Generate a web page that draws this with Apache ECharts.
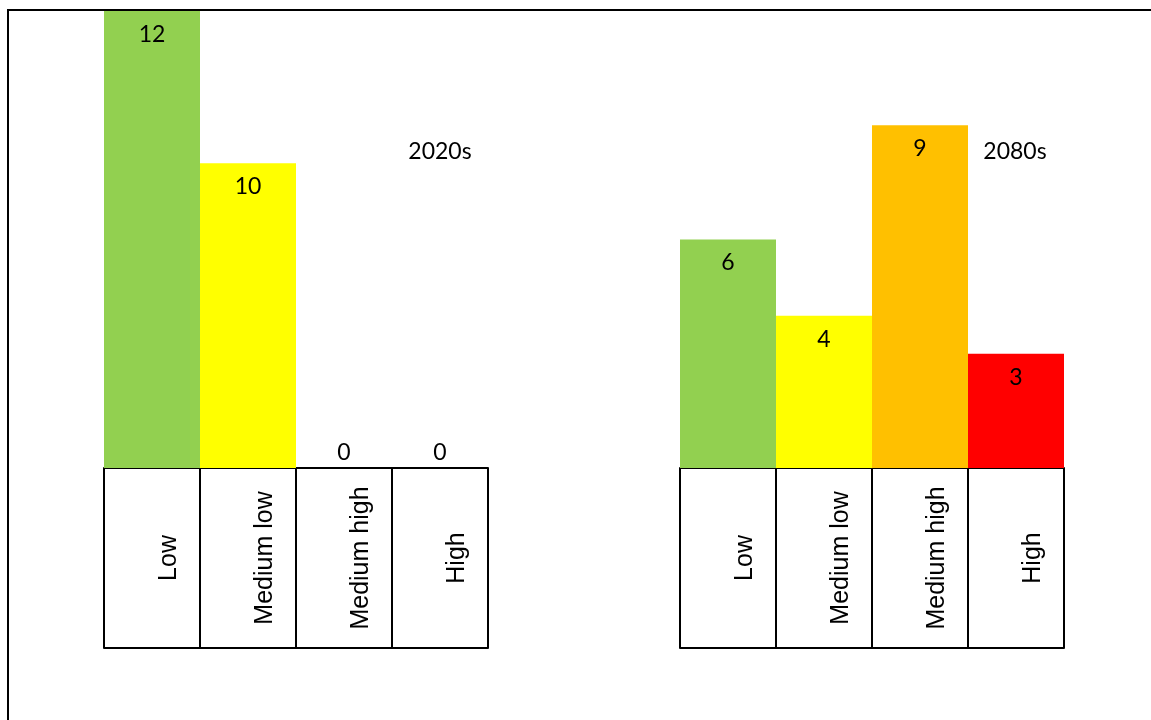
<!DOCTYPE html>
<html>
<head>
<meta charset="utf-8">
<script src="https://cdn.jsdelivr.net/npm/echarts@6/dist/echarts.min.js"></script>
<style>
html,body{margin:0;padding:0;background:#fff;}
#chart{width:1151px;height:720px;}
</style>
</head>
<body>
<div id="chart"></div>
<script>
// ---- data ----
var categories = ['Low', 'Medium low', 'Medium high', 'High'];
var colors = ['#92D050', '#FFFF00', '#FFC000', '#FF0000'];
var values2020s = [12, 10, 0, 0];
var values2080s = [6, 4, 9, 3];
var titles = ['2020s', '2080s'];
// axis ranges
var yRange2020s = [6, 12];
var yRange2080s = [0, 12];

var numFont = 'Lato, "Open Sans", sans-serif';
var catFont = '"Liberation Sans", Arial, sans-serif';

function barData(vals, range) {
  return vals.map(function (v, i) {
    var item = { value: v, itemStyle: { color: colors[i] } };
    if (v < range[0]) item.label = { show: false };
    return item;
  });
}

function xAxesFor(gridIndex) {
  return [
    {
      type: 'category', gridIndex: gridIndex, data: categories, position: 'bottom',
      boundaryGap: true,
      axisLine: { show: true, lineStyle: { color: '#000', width: 2 } },
      axisTick: { show: true, interval: 0, length: 180, lineStyle: { color: '#000', width: 2 } },
      axisLabel: {
        interval: 0, rotate: 90, margin: 90, align: 'center', verticalAlign: 'top',
        lineHeight: 35,
        fontFamily: catFont, fontSize: 25, color: '#000'
      },
      splitLine: { show: false }
    },
    {
      type: 'category', gridIndex: gridIndex, data: categories, position: 'bottom', offset: 180,
      axisLine: { show: true, lineStyle: { color: '#000', width: 2 } },
      axisTick: { show: false }, axisLabel: { show: false }, splitLine: { show: false }
    }
  ];
}

function yAxisFor(gridIndex, range) {
  return {
    type: 'value', gridIndex: gridIndex, min: range[0], max: range[1], startValue: range[0],
    show: false, splitLine: { show: false }
  };
}

var labelStyle = {
  show: true, position: 'insideTop', distance: 12,
  fontFamily: numFont, fontSize: 23, color: '#000'
};

var option = {
  animation: false,
  backgroundColor: '#fff',
  grid: [
    { left: 104, width: 384, top: 11, height: 457 },
    { left: 680, width: 384, top: 11, height: 457 }
  ],
  xAxis: xAxesFor(0).concat(xAxesFor(1)),
  yAxis: [yAxisFor(0, yRange2020s), yAxisFor(1, yRange2080s)],
  series: [
    { type: 'bar', xAxisIndex: 0, yAxisIndex: 0, data: barData(values2020s, yRange2020s),
      barWidth: '100%', label: labelStyle, clip: true },
    { type: 'bar', xAxisIndex: 2, yAxisIndex: 1, data: barData(values2080s, yRange2080s),
      barWidth: '100%', label: labelStyle, clip: true }
  ]
};

var chart = echarts.init(document.getElementById('chart'), null, { renderer: 'canvas' });
chart.setOption(option);

var graphics = [
  { type: 'rect', shape: { x: 8, y: 10, width: 1300, height: 900 },
    style: { fill: 'none', stroke: '#000', lineWidth: 2 }, silent: true, z: 100 },
  { type: 'text', x: 440, y: 152,
    style: { text: titles[0], fontFamily: numFont, fontSize: 23, fill: '#000',
             textAlign: 'center', textVerticalAlign: 'middle' } },
  { type: 'text', x: 1015, y: 152,
    style: { text: titles[1], fontFamily: numFont, fontSize: 23, fill: '#000',
             textAlign: 'center', textVerticalAlign: 'middle' } }
];
// labels for values that fall below the visible axis minimum (drawn at the axis base)
values2020s.forEach(function (v, i) {
  if (v < yRange2020s[0]) {
    var p = chart.convertToPixel({ xAxisIndex: 0, yAxisIndex: 0 }, [categories[i], yRange2020s[0]]);
    graphics.push({
      type: 'text', x: p[0], y: p[1] - 15,
      style: { text: String(v), fontFamily: numFont, fontSize: 23, fill: '#000',
               textAlign: 'center', textVerticalAlign: 'middle' }
    });
  }
});
chart.setOption({ graphic: graphics });
</script>
</body>
</html>
